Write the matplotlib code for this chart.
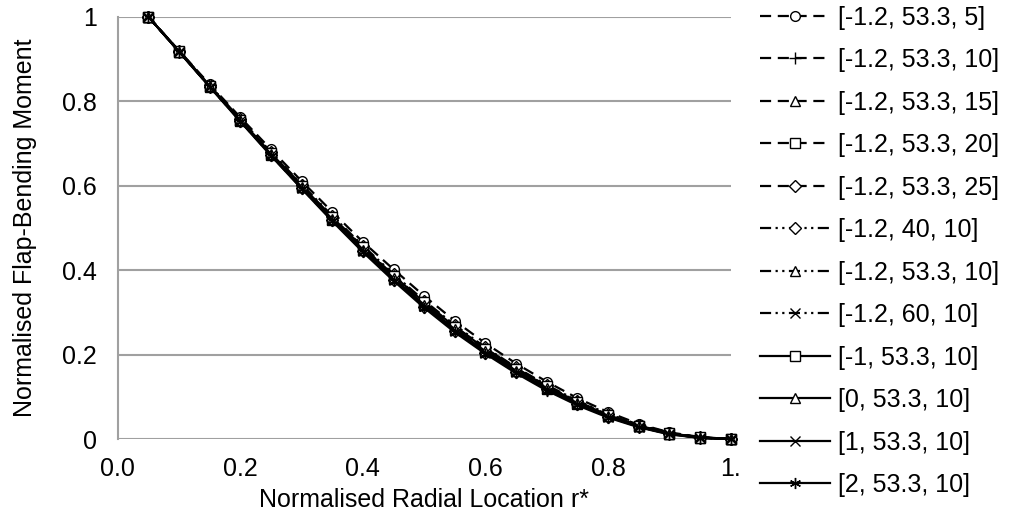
import matplotlib
matplotlib.use("Agg")
import matplotlib.pyplot as plt
from matplotlib.ticker import FixedLocator, FixedFormatter

plt.rcParams['font.family'] = ['Liberation Sans', 'DejaVu Sans']

# ---------------------------------- DATA -------------------------------------#
r_star = [0.05, 0.10, 0.15, 0.20, 0.25, 0.30, 0.35, 0.40, 0.45, 0.50,
          0.55, 0.60, 0.65, 0.70, 0.75, 0.80, 0.85, 0.90, 0.95, 1.00]

labels = ['[-1.2, 53.3, 5]', '[-1.2, 53.3, 10]', '[-1.2, 53.3, 15]',
          '[-1.2, 53.3, 20]', '[-1.2, 53.3, 25]', '[-1.2, 40, 10]',
          '[-1.2, 53.3, 10]', '[-1.2, 60, 10]', '[-1, 53.3, 10]',
          '[0, 53.3, 10]', '[1, 53.3, 10]', '[2, 53.3, 10]']

m_5 = [1.000, 0.920, 0.840, 0.762, 0.686, 0.611, 0.538, 0.467, 0.402, 0.339,
       0.280, 0.227, 0.179, 0.136, 0.097, 0.064, 0.036, 0.016, 0.005, 0.000]
m_10 = [1.000, 0.919, 0.837, 0.757, 0.678, 0.601, 0.526, 0.455, 0.388, 0.325,
        0.267, 0.215, 0.168, 0.126, 0.089, 0.058, 0.033, 0.014, 0.004, 0.000]
m_15 = [1.000, 0.918, 0.836, 0.755, 0.675, 0.598, 0.522, 0.451, 0.383, 0.320,
        0.262, 0.210, 0.164, 0.122, 0.086, 0.056, 0.031, 0.013, 0.004, 0.000]
m_20 = [1.000, 0.918, 0.835, 0.754, 0.673, 0.596, 0.520, 0.448, 0.380, 0.317,
        0.259, 0.207, 0.161, 0.119, 0.084, 0.054, 0.030, 0.013, 0.003, 0.000]
m_25 = [1.000, 0.918, 0.835, 0.753, 0.672, 0.594, 0.518, 0.446, 0.378, 0.314,
        0.256, 0.205, 0.159, 0.118, 0.082, 0.053, 0.029, 0.012, 0.003, 0.000]
m_40 = [1.000, 0.919, 0.838, 0.758, 0.680, 0.603, 0.529, 0.458, 0.391, 0.328,
        0.270, 0.217, 0.170, 0.128, 0.091, 0.060, 0.034, 0.015, 0.004, 0.000]
m_533 = m_10
m_60 = [1.000, 0.918, 0.836, 0.755, 0.676, 0.599, 0.524, 0.452, 0.385, 0.322,
        0.264, 0.212, 0.166, 0.124, 0.087, 0.057, 0.032, 0.014, 0.004, 0.000]
m_p_1 = [1.000, 0.919, 0.837, 0.756, 0.677, 0.600, 0.525, 0.454, 0.387, 0.324,
         0.266, 0.214, 0.167, 0.125, 0.088, 0.057, 0.032, 0.014, 0.004, 0.000]
m_p0 = [1.000, 0.918, 0.836, 0.755, 0.675, 0.597, 0.521, 0.449, 0.381, 0.318,
        0.260, 0.208, 0.162, 0.120, 0.085, 0.055, 0.031, 0.013, 0.003, 0.000]
m_p1 = [1.000, 0.918, 0.835, 0.753, 0.673, 0.595, 0.519, 0.446, 0.378, 0.315,
        0.257, 0.205, 0.159, 0.118, 0.083, 0.053, 0.029, 0.012, 0.003, 0.000]
m_p2 = [1.000, 0.917, 0.834, 0.752, 0.671, 0.593, 0.516, 0.443, 0.375, 0.311,
        0.253, 0.202, 0.156, 0.115, 0.080, 0.051, 0.028, 0.011, 0.003, 0.000]

series = [m_5, m_10, m_15, m_20, m_25, m_40, m_533, m_60, m_p_1, m_p0, m_p1, m_p2]

x_ticks = [0.0, 0.2, 0.4, 0.6, 0.8, 1.0]
x_ticklabels = ['0.0', '0.2', '0.4', '0.6', '0.8', '1.']
y_ticks = [0, 0.2, 0.4, 0.6, 0.8, 1]
y_ticklabels = ['0', '0.2', '0.4', '0.6', '0.8', '1']

# --------------------------------- STYLES ------------------------------------#
FS = 18
DASH = (0, (5, 3))
DASHDOT = (0, (5, 2, 1, 2, 1, 2))
styles = [DASH] * 5 + [DASHDOT] * 3 + ['-'] * 4
markers = ['o', '+', '^', 's', 'D', 'D', '^', 'x', 's', '^', 'x', (6, 2, 0)]
msizes = [7, 8, 7, 7, 6, 6, 7, 7, 7, 7, 7, 8]

# ---------------------------------- PLOT -------------------------------------#
fig = plt.figure(figsize=(10.16, 5.29), dpi=100)
ax = fig.add_axes([0.116, 0.170, 0.603, 0.798])

for vals, lab, ls, mk, ms in zip(series, labels, styles, markers, msizes):
    ax.plot(r_star, vals, color='black', lw=1.6, linestyle=ls, marker=mk,
            markersize=ms, markerfacecolor='white', markeredgecolor='black',
            markeredgewidth=1.0, label=lab, clip_on=False)

ax.set_xlim(0, 1.0)
ax.set_ylim(0, 1)
ax.xaxis.set_major_locator(FixedLocator(x_ticks))
ax.xaxis.set_major_formatter(FixedFormatter(x_ticklabels))
ax.yaxis.set_major_locator(FixedLocator(y_ticks))
ax.yaxis.set_major_formatter(FixedFormatter(y_ticklabels))
ax.tick_params(length=0, labelsize=FS)
ax.tick_params(axis='y', pad=15)
ax.tick_params(axis='x', pad=13)
ax.grid(axis='y', color='#a0a0a0', lw=1.5)
ax.set_axisbelow(True)
for s in ['top', 'right', 'bottom']:
    ax.spines[s].set_visible(False)
ax.spines['left'].set_color('#a0a0a0')
ax.spines['left'].set_linewidth(1.5)

ax.set_xlabel('Normalised Radial Location r*', fontsize=FS, labelpad=5)
ax.set_ylabel('Normalised Flap-Bending Moment', fontsize=FS, labelpad=18)

ax.legend(loc='upper left', bbox_to_anchor=(0.746, 0.994),
          bbox_transform=fig.transFigure, frameon=False, fontsize=FS,
          handlelength=2.8, handletextpad=0.32, labelspacing=0.74, borderpad=0.1,
          borderaxespad=0)

fig.savefig('out.png', dpi=100)
